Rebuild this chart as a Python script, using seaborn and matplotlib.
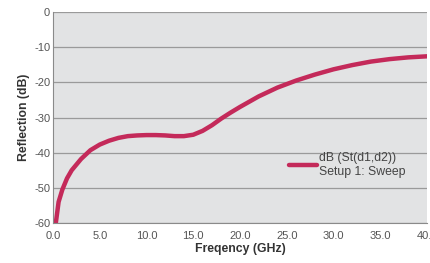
import pandas as pd
import matplotlib.pyplot as plt
import seaborn as sns
from matplotlib.ticker import MultipleLocator

# values
freq_ghz = [0.3, 0.6, 1, 1.5, 2, 3, 4, 5, 6, 7, 8, 9, 10, 11, 12, 13, 14, 15, 16, 17, 18,
            19, 20, 22, 24, 26, 28, 30, 32, 34, 36, 38, 40]
reflection_db = [-60, -54, -50.5, -47.3, -45, -41.8, -39.3, -37.7, -36.6, -35.8, -35.3, -35.1,
                 -35, -35, -35.1, -35.3, -35.3, -34.9, -33.8, -32.2, -30.3, -28.6, -27, -24,
                 -21.5, -19.5, -17.8, -16.3, -15.1, -14.1, -13.4, -12.9, -12.6]
x_ticks = [0, 5, 10, 15, 20, 25, 30, 35, 40]
x_tick_labels = ["0.0", "5.0", "10.0", "15.0", "20.0", "25.0", "30.0", "35.0", "40.0"]
y_ticks = [0, -10, -20, -30, -40, -50, -60]

df = pd.DataFrame({"freq": freq_ghz, "refl": reflection_db})

sns.set_style("white")
plt.rcParams['font.family'] = ['Liberation Sans', 'DejaVu Sans']
plt.rcParams['axes.unicode_minus'] = False

fig = plt.figure(figsize=(4.31, 2.63), dpi=100)
ax = fig.add_axes([53 / 431, 1 - 223 / 263, 374 / 431, 211 / 263])
ax.set_facecolor("#e2e3e4")

sns.lineplot(data=df, x="freq", y="refl", ax=ax, color="#c42a5a", linewidth=3.2,
             label="dB (St(d1,d2))\nSetup 1: Sweep")

ax.set_xlim(0, 40)
ax.set_ylim(-60, 0)
ax.set_xticks(x_ticks)
ax.set_xticklabels(x_tick_labels)
ax.set_yticks(y_ticks)
ax.xaxis.set_minor_locator(MultipleLocator(1))
ax.yaxis.set_minor_locator(MultipleLocator(2))
ax.grid(axis="y", color="#9a9a9a", linewidth=0.9)
ax.set_axisbelow(True)

for side in ["top", "right"]:
    ax.spines[side].set_visible(False)
for side in ["left", "bottom"]:
    ax.spines[side].set_color("#8a8a8a")
    ax.spines[side].set_linewidth(0.8)

ax.tick_params(axis="both", which="major", labelsize=8, colors="#8a8a8a",
               labelcolor="#555555", length=3, width=0.7, pad=2)
ax.tick_params(axis="x", which="major", pad=6)
ax.tick_params(axis="both", which="minor", colors="#8a8a8a", length=2, width=0.6)
ax.tick_params(axis="both", which="both", direction="in")

ax.set_xlabel("Freqency (GHz)", fontsize=8.8, fontweight="bold", color="#333333", labelpad=1)
ax.set_ylabel("Reflection (dB)", fontsize=8.8, fontweight="bold", color="#333333", labelpad=3)

leg = ax.legend(loc="upper left", bbox_to_anchor=(0.632, 0.335), frameon=False,
                fontsize=8.8, handlelength=2.3, handletextpad=0.1, borderpad=0,
                borderaxespad=0)
for t in leg.get_texts():
    t.set_color("#444444")

fig.savefig("out.png", dpi=100)
